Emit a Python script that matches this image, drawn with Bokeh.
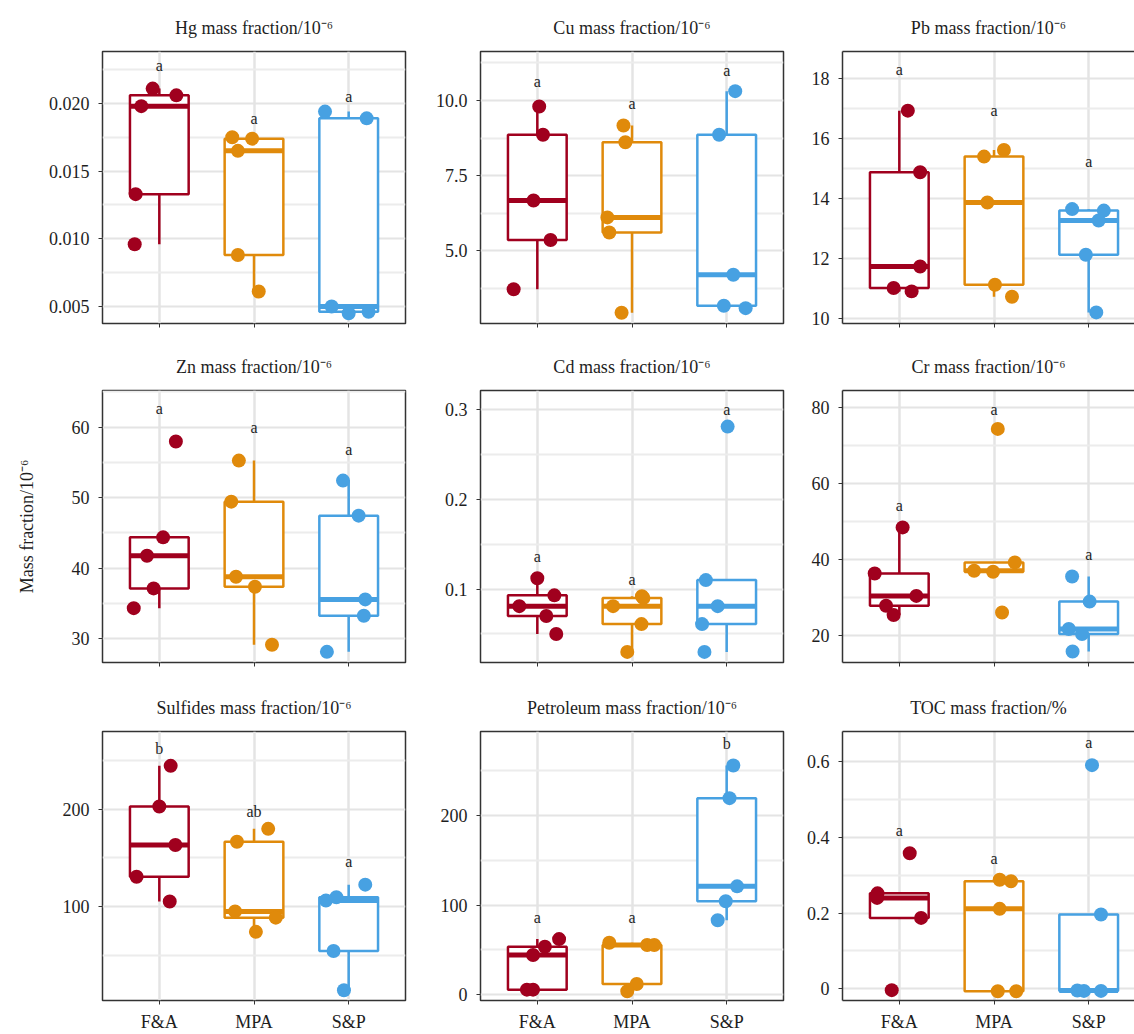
import numpy as np
from bokeh.plotting import figure
from bokeh.models import Range1d, FixedTicker, LinearAxis, ColumnDataSource, PrintfTickFormatter
from bokeh.layouts import row, column
from bokeh.embed import file_html
from bokeh.resources import INLINE
from bokeh.core.properties import value

# ---------------- data ----------------
groups = ["F&A", "MPA", "S&P"]
group_colors = ["#A0001E", "#E08A0B", "#47A1E2"]

titles = ["Hg mass fraction/10\u207b\u2076", "Cu mass fraction/10\u207b\u2076", "Pb mass fraction/10\u207b\u2076",
          "Zn mass fraction/10\u207b\u2076", "Cd mass fraction/10\u207b\u2076", "Cr mass fraction/10\u207b\u2076",
          "Sulfides mass fraction/10\u207b\u2076", "Petroleum mass fraction/10\u207b\u2076", "TOC mass fraction/%"]
y_axis_title = "Mass fraction/10\u207b\u2076"

hg_fa = [0.0211, 0.0206, 0.0198, 0.0133, 0.0096]
hg_mpa = [0.0175, 0.0174, 0.0165, 0.0088, 0.0061]
hg_sp = [0.0194, 0.0189, 0.0050, 0.0045, 0.0046]
hg_jit = [[-0.07, 0.18, -0.19, -0.25, -0.26], [-0.23, -0.02, -0.17, -0.17, 0.05], [-0.25, 0.19, -0.18, 0.0, 0.21]]
hg_letters = ["a", "a", "a"]
hg_letter_y = [0.0228, 0.0189, 0.0205]
hg_ticks = [0.005, 0.010, 0.015, 0.020]
hg_minor = [0.0075, 0.0125, 0.0175, 0.0225]
hg_lim = [0.00374, 0.02384]

cu_fa = [9.80, 8.86, 6.67, 5.36, 3.72]
cu_mpa = [9.17, 8.61, 6.11, 5.61, 2.94]
cu_sp = [10.31, 8.86, 4.20, 3.17, 3.09]
cu_jit = [[0.02, 0.06, -0.04, 0.14, -0.25], [-0.09, -0.07, -0.26, -0.24, -0.11], [0.09, -0.08, 0.07, -0.03, 0.20]]
cu_letters = ["a", "a", "a"]
cu_letter_y = [10.63, 9.89, 11.0]
cu_ticks = [5.0, 7.5, 10.0]
cu_minor = [3.75, 6.25, 8.75, 11.25]
cu_lim = [2.58, 11.63]

pb_fa = [16.92, 14.87, 11.73, 11.01, 10.90]
pb_mpa = [15.39, 15.61, 13.86, 11.12, 10.72]
pb_sp = [13.64, 13.59, 13.26, 12.12, 10.20]
pb_jit = [[0.09, 0.22, 0.22, -0.06, 0.13], [-0.105, 0.105, -0.07, 0.01, 0.19], [-0.175, 0.16, 0.105, -0.03, 0.08]]
pb_letters = ["a", "a", "a"]
pb_letter_y = [18.28, 16.92, 15.21]
pb_ticks = [10, 12, 14, 16, 18]
pb_minor = [11, 13, 15, 17]
pb_lim = [9.83, 18.89]

zn_fa = [57.96, 44.36, 41.75, 37.11, 34.31]
zn_mpa = [55.26, 49.43, 38.77, 37.35, 29.10]
zn_sp = [52.42, 47.44, 35.55, 33.22, 28.10]
zn_jit = [[0.175, 0.04, -0.13, -0.06, -0.27], [-0.16, -0.24, -0.19, 0.01, 0.19], [-0.06, 0.105, 0.175, 0.16, -0.23]]
zn_letters = ["a", "a", "a"]
zn_letter_y = [62.7, 60.0, 56.8]
zn_ticks = [30, 40, 50, 60]
zn_minor = [35, 45, 55, 65]
zn_lim = [26.59, 65.21]

cd_fa = [0.112, 0.093, 0.081, 0.070, 0.050]
cd_mpa = [0.092, 0.090, 0.081, 0.061, 0.030]
cd_sp = [0.281, 0.110, 0.081, 0.061, 0.030]
cd_jit = [[0.0, 0.18, -0.19, 0.095, 0.20], [0.105, 0.12, -0.20, 0.10, -0.05], [0.01, -0.22, -0.095, -0.26, -0.235]]
cd_letters = ["a", "a", "a"]
cd_letter_y = [0.136, 0.111, 0.300]
cd_ticks = [0.1, 0.2, 0.3]
cd_minor = [0.05, 0.15, 0.25]
cd_lim = [0.0182, 0.3212]

cr_fa = [48.4, 36.3, 30.4, 27.8, 25.35]
cr_mpa = [74.3, 39.2, 37.0, 36.75, 26.05]
cr_sp = [35.5, 28.9, 21.7, 20.35, 15.8]
cr_jit = [[0.035, -0.26, 0.18, -0.14, -0.06], [0.04, 0.22, -0.21, -0.01, 0.085], [-0.175, 0.01, -0.21, -0.07, -0.17]]
cr_letters = ["a", "a", "a"]
cr_letter_y = [54.1, 79.3, 41.4]
cr_ticks = [20, 40, 60, 80]
cr_minor = [30, 50, 70]
cr_lim = [12.89, 84.39]

su_fa = [244.4, 202.7, 163.1, 130.5, 105.1]
su_mpa = [179.7, 166.4, 94.9, 88.5, 73.9]
su_sp = [122.4, 109.5, 106.1, 54.2, 13.9]
su_jit = [[0.12, 0.0, 0.17, -0.24, 0.11], [0.15, -0.18, -0.20, 0.23, 0.02], [0.175, -0.13, -0.24, -0.16, -0.05]]
su_letters = ["b", "ab", "a"]
su_letter_y = [262.7, 197.6, 145.8]
su_ticks = [100, 200]
su_minor = [50, 150, 250]
su_lim = [3.4, 279.7]

pe_fa = [62.0, 53.5, 44.3, 5.5, 5.5]
pe_mpa = [57.9, 55.4, 55.4, 11.8, 3.7]
pe_sp = [256.1, 219.6, 121.0, 104.4, 83.0]
pe_jit = [[0.23, 0.08, -0.045, -0.11, -0.045], [-0.24, 0.16, 0.235, 0.05, -0.05], [0.07, 0.03, 0.11, -0.01, -0.095]]
pe_letters = ["a", "a", "b"]
pe_letter_y = [85.6, 85.6, 280.4]
pe_ticks = [0, 100, 200]
pe_minor = [50, 150, 250]
pe_lim = [-6.64, 294.1]

toc_fa = [0.358, 0.252, 0.240, 0.187, -0.004]
toc_mpa = [0.288, 0.284, 0.211, -0.007, -0.007]
toc_sp = [0.591, 0.196, -0.005, -0.006, -0.006]
toc_jit = [[0.11, -0.23, -0.235, 0.23, -0.08], [0.06, 0.18, 0.06, 0.04, 0.235], [0.035, 0.13, -0.12, -0.05, 0.13]]
toc_letters = ["a", "a", "a"]
toc_letter_y = [0.417, 0.344, 0.65]
toc_ticks = [0, 0.2, 0.4, 0.6]
toc_minor = [0.1, 0.3, 0.5]
toc_lim = [-0.0314, 0.680]

tick_formats = ["%.3f", "%.1f", "%g", "%g", "%g", "%g", "%g", "%g", "%g"]

panels = [
    ([hg_fa, hg_mpa, hg_sp], hg_jit, hg_letters, hg_letter_y, hg_ticks, hg_minor, hg_lim),
    ([cu_fa, cu_mpa, cu_sp], cu_jit, cu_letters, cu_letter_y, cu_ticks, cu_minor, cu_lim),
    ([pb_fa, pb_mpa, pb_sp], pb_jit, pb_letters, pb_letter_y, pb_ticks, pb_minor, pb_lim),
    ([zn_fa, zn_mpa, zn_sp], zn_jit, zn_letters, zn_letter_y, zn_ticks, zn_minor, zn_lim),
    ([cd_fa, cd_mpa, cd_sp], cd_jit, cd_letters, cd_letter_y, cd_ticks, cd_minor, cd_lim),
    ([cr_fa, cr_mpa, cr_sp], cr_jit, cr_letters, cr_letter_y, cr_ticks, cr_minor, cr_lim),
    ([su_fa, su_mpa, su_sp], su_jit, su_letters, su_letter_y, su_ticks, su_minor, su_lim),
    ([pe_fa, pe_mpa, pe_sp], pe_jit, pe_letters, pe_letter_y, pe_ticks, pe_minor, pe_lim),
    ([toc_fa, toc_mpa, toc_sp], toc_jit, toc_letters, toc_letter_y, toc_ticks, toc_minor, toc_lim),
]

# ---------------- styling ----------------
FONT = "Liberation Serif"
TXT = "#1e1e1e"
FRAME = "#333333"
BOX_W = 0.62
UNIT_PX = 303 / 3.2

col_left = [102, 50, 39]
col_right = [25, 20, 0]
col_frame = [303, 303, 292]
row_top = [51, 50, 51]
row_bottom = [17, 18, 31]
row_h = [340, 340, 354]


def make_panel(idx):
    r, c = divmod(idx, 3)
    data, jit, letters, letter_y, ticks, minor, lim = panels[idx]
    W = col_left[c] + col_frame[c] + col_right[c]
    xend = 0.4 + col_frame[c] / UNIT_PX
    p = figure(width=W, height=row_h[r], x_range=Range1d(0.4, xend), y_range=Range1d(lim[0], lim[1]),
               output_backend="svg", toolbar_location=None,
               min_border_left=col_left[c], min_border_right=col_right[c],
               min_border_top=row_top[r], min_border_bottom=row_bottom[r],
               title=titles[idx])
    p.title.align = "center"
    p.title.vertical_align = "top"
    p.title.text_font = FONT
    p.title.text_font_size = "18px"
    p.title.text_font_style = "normal"
    p.title.text_color = TXT
    p.title.standoff = 23

    # grid
    p.xgrid.grid_line_color = "#E4E4E4"
    p.xgrid.grid_line_width = 2.5
    p.ygrid.grid_line_color = "#E4E4E4"
    p.ygrid.grid_line_width = 2
    p.ygrid.minor_grid_line_color = "#ECECEC"
    p.ygrid.minor_grid_line_width = 2

    # axes
    p.xaxis.ticker = FixedTicker(ticks=[1, 2, 3])
    p.yaxis.ticker = FixedTicker(ticks=ticks, minor_ticks=minor)
    p.yaxis.formatter = PrintfTickFormatter(format=tick_formats[idx])
    for ax in (p.xaxis[0], p.yaxis[0]):
        ax.major_label_text_font = FONT
        ax.major_label_text_font_size = "18px"
        ax.major_label_text_color = TXT
        ax.major_tick_out = 4
        ax.major_tick_in = 0
        ax.major_tick_line_color = FRAME
        ax.major_tick_line_width = 1
        ax.minor_tick_line_color = None
        ax.major_label_standoff = 9
    if r == 2:
        p.xaxis.major_label_overrides = {1: groups[0], 2: groups[1], 3: groups[2]}
        p.xaxis.major_label_standoff = 7
    else:
        p.xaxis.major_label_overrides = {1: "", 2: "", 3: ""}
        p.xaxis.major_label_text_font_size = "0px"
        p.xaxis.major_label_standoff = 0

    if c < 2:
        p.outline_line_color = FRAME
        p.outline_line_width = 1.5
        p.xaxis.axis_line_color = None
        p.yaxis.axis_line_color = None
    else:
        p.outline_line_color = None
        p.xaxis.axis_line_color = FRAME
        p.xaxis.axis_line_width = 1.5
        p.yaxis.axis_line_color = FRAME
        p.yaxis.axis_line_width = 1.5
        top_ax = LinearAxis(ticker=FixedTicker(ticks=[]), major_label_text_font_size="0px",
                            major_label_standoff=0, major_tick_out=0, major_tick_in=0,
                            major_tick_line_color=None, minor_tick_line_color=None,
                            axis_line_color=FRAME, axis_line_width=1.5)
        p.add_layout(top_ax, "above")

    if idx == 3:
        p.yaxis.axis_label = y_axis_title
        p.yaxis.axis_label_text_font = FONT
        p.yaxis.axis_label_text_font_size = "18px"
        p.yaxis.axis_label_text_font_style = "normal"
        p.yaxis.axis_label_text_color = TXT
        p.yaxis.axis_label_standoff = 32

    # box statistics (Tukey)
    wx, wy0, wy1, wc = [], [], [], []
    bl, br, bb, bt, bc = [], [], [], [], []
    mx0, mx1, my, mc = [], [], [], []
    px, py, pc = [], [], []
    for gi, vals in enumerate(data):
        v = np.array(vals, dtype=float)
        q1, med, q3 = np.percentile(v, [25, 50, 75])
        iqr = q3 - q1
        lo = v[v >= q1 - 1.5 * iqr].min()
        hi = v[v <= q3 + 1.5 * iqr].max()
        x = gi + 1
        col = group_colors[gi]
        wx += [x, x]; wy0 += [q3, lo]; wy1 += [hi, q1]; wc += [col, col]
        bl.append(x - BOX_W / 2); br.append(x + BOX_W / 2); bb.append(q1); bt.append(q3); bc.append(col)
        mx0.append(x - BOX_W / 2); mx1.append(x + BOX_W / 2); my.append(med); mc.append(col)
        for val, j in zip(vals, jit[gi]):
            px.append(x + j); py.append(val); pc.append(col)

    p.segment(x0="x", y0="y0", x1="x", y1="y1", line_color="c", line_width=2.5,
              source=ColumnDataSource(dict(x=wx, y0=wy0, y1=wy1, c=wc)))
    p.quad(left="l", right="r", bottom="b", top="t", fill_color="white", line_color="c", line_width=2.5,
           source=ColumnDataSource(dict(l=bl, r=br, b=bb, t=bt, c=bc)))
    p.segment(x0="x0", y0="y", x1="x1", y1="y", line_color="c", line_width=5,
              source=ColumnDataSource(dict(x0=mx0, x1=mx1, y=my, c=mc)))
    p.scatter(x="x", y="y", color="c", size=14, line_color=None,
              source=ColumnDataSource(dict(x=px, y=py, c=pc)))
    p.text(x=[1, 2, 3], y=letter_y, text=letters, text_font=value(FONT), text_font_size="16px",
           text_align="center", text_baseline="middle", text_color=TXT)
    return p


figs = [make_panel(i) for i in range(9)]
layout = column(row(figs[0], figs[1], figs[2]), row(figs[3], figs[4], figs[5]), row(figs[6], figs[7], figs[8]))

open("out.html", "w").write(file_html(layout, INLINE))
